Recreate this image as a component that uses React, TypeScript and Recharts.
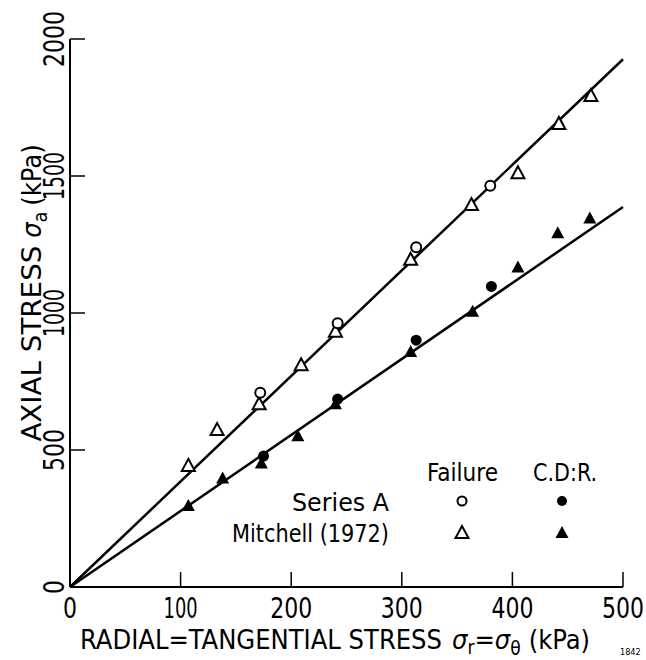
import { Scatter, ScatterChart, XAxis, YAxis } from 'recharts'

const FONT = "'DejaVu Sans Condensed', 'DejaVu Sans', sans-serif"

const xTicks = [0, 100, 200, 300, 400, 500]
const yTicks = [0, 500, 1000, 1500, 2000]

// failure points
const failureSeriesA = [
  { x: 172, y: 709 },
  { x: 242, y: 963 },
  { x: 313, y: 1240 },
  { x: 380, y: 1464 },
]
const failureMitchell = [
  { x: 107, y: 442 },
  { x: 133, y: 573 },
  { x: 171, y: 667 },
  { x: 209, y: 809 },
  { x: 240, y: 932 },
  { x: 308, y: 1194 },
  { x: 363, y: 1394 },
  { x: 405, y: 1510 },
  { x: 442, y: 1690 },
  { x: 471, y: 1792 },
]
// constant deformation ratio points
const cdrSeriesA = [
  { x: 175, y: 478 },
  { x: 242, y: 686 },
  { x: 313, y: 901 },
  { x: 381, y: 1097 },
]
const cdrMitchell = [
  { x: 107, y: 296 },
  { x: 138, y: 396 },
  { x: 173, y: 451 },
  { x: 206, y: 550 },
  { x: 240, y: 667 },
  { x: 308, y: 858 },
  { x: 364, y: 1005 },
  { x: 405, y: 1166 },
  { x: 441, y: 1291 },
  { x: 470, y: 1345 },
]
const failureLine = [{ x: 0, y: 0 }, { x: 500, y: 1926 }]
const cdrLine = [{ x: 0, y: 0 }, { x: 500, y: 1387 }]

const openCircle = (p: any) => <circle cx={p.cx} cy={p.cy} r={5} fill="#fff" stroke="#000" strokeWidth={2} />
const filledCircle = (p: any) => <circle cx={p.cx} cy={p.cy} r={5.5} fill="#000" />
const tri = (cx: number, cy: number) => `${cx},${cy - 7} ${cx - 6.5},${cy + 5} ${cx + 6.5},${cy + 5}`
const openTriangle = (p: any) => <polygon points={tri(p.cx, p.cy)} fill="#fff" stroke="#000" strokeWidth={2} />
const filledTriangle = (p: any) => <polygon points={tri(p.cx, p.cy)} fill="#000" />
const noShape = () => <g />

// the original lettering is tall and narrow, squeeze digits to its widths
const numWidth = (s: string) => s.split('').reduce((w, c) => w + (c === '1' ? 6 : 14), 0)

function XTick({ x, y, payload }: any) {
  const s = String(payload.value)
  return (
    <text x={x} y={y + 21} textAnchor="middle" fontSize={29} fontFamily={FONT} fill="#000"
      textLength={numWidth(s)} lengthAdjust="spacingAndGlyphs">
      {s}
    </text>
  )
}

function YTick({ x, y, payload }: any) {
  const s = String(payload.value)
  return (
    <text x={x} y={y} transform={`rotate(-90 ${x} ${y})`} textAnchor="middle" dominantBaseline="central"
      fontSize={29} fontFamily={FONT} fill="#000" textLength={numWidth(s)} lengthAdjust="spacingAndGlyphs">
      {s}
    </text>
  )
}

function XLabel({ viewBox }: any) {
  const left = viewBox.x + 10
  return (
    <text x={left} y={viewBox.y + 62} fontSize={27} fontFamily={FONT} fill="#000">
      <tspan textLength={362} lengthAdjust="spacingAndGlyphs">RADIAL=TANGENTIAL STRESS</tspan>
      <tspan dx={10} fontStyle="italic">σ</tspan><tspan dy={5} fontSize={19}>r</tspan>
      <tspan dy={-5}>=</tspan><tspan fontStyle="italic">σ</tspan><tspan dy={6} fontSize={19}>θ</tspan>
      <tspan dy={-6} dx={8}>(kPa)</tspan>
    </text>
  )
}

function YLabel({ viewBox }: any) {
  const x = 41
  const y = viewBox.y + viewBox.height / 2 - 20
  return (
    <text x={x} y={y} transform={`rotate(-90 ${x} ${y})`} textAnchor="middle" fontSize={27} fontFamily={FONT} fill="#000">
      <tspan textLength={196} lengthAdjust="spacingAndGlyphs">AXIAL STRESS</tspan>
      <tspan dx={8} fontStyle="italic">σ</tspan><tspan dy={6} fontSize={19}>a</tspan>
      <tspan dy={-6} dx={6}>(kPa)</tspan>
    </text>
  )
}

function LegendBlock() {
  const t = { fontFamily: FONT, fontSize: 25, fill: '#000', lengthAdjust: 'spacingAndGlyphs' as const }
  return (
    <svg width={646} height={660} style={{ position: 'absolute', left: 0, top: 0, pointerEvents: 'none' }}>
      <text {...t} x={427} y={481} textLength={71}>Failure</text>
      <text {...t} x={533} y={481} textLength={64}>C.D:R.</text>
      <text {...t} x={292} y={511} textLength={97}>Series A</text>
      <text {...t} x={232} y={542} textLength={157}>Mitchell (1972)</text>
      <circle cx={462} cy={501} r={4.5} fill="#fff" stroke="#000" strokeWidth={2} />
      <circle cx={562} cy={501} r={5} fill="#000" />
      <polygon points={tri(462, 533)} fill="#fff" stroke="#000" strokeWidth={2} />
      <polygon points={tri(562, 533)} fill="#000" />
      <text x={620} y={655} fontFamily={FONT} fontSize={9} fill="#000">1842</text>
    </svg>
  )
}

export default function App() {
  return (
    <div style={{ position: 'absolute', left: 0, top: 0, width: 646, height: 660, background: '#fff' }}>
      <ScatterChart width={646} height={660} margin={{ top: 39, right: 23, left: 0, bottom: 0 }}>
        <XAxis type="number" dataKey="x" domain={[0, 500]} ticks={xTicks} interval={0} height={73}
          tickSize={-15} tickMargin={25} axisLine={{ stroke: '#000', strokeWidth: 2 }}
          tickLine={{ stroke: '#000', strokeWidth: 1.5 }} tick={<XTick />} label={<XLabel />} />
        <XAxis xAxisId="top" orientation="top" type="number" domain={[0, 500]} height={0}
          tick={false} tickLine={false} axisLine={{ stroke: '#000', strokeWidth: 2 }} />
        <YAxis type="number" dataKey="y" domain={[0, 2000]} ticks={yTicks} interval={0} width={70}
          tickSize={-15} tickMargin={31} axisLine={{ stroke: '#000', strokeWidth: 2 }}
          tickLine={{ stroke: '#000', strokeWidth: 1.5 }} tick={<YTick />} label={<YLabel />} />
        <YAxis yAxisId="right" orientation="right" type="number" domain={[0, 2000]} width={0}
          tick={false} tickLine={false} axisLine={{ stroke: '#000', strokeWidth: 2 }} />
        <Scatter data={failureLine} line={{ stroke: '#000', strokeWidth: 2.5 }} shape={noShape} isAnimationActive={false} />
        <Scatter data={cdrLine} line={{ stroke: '#000', strokeWidth: 2.5 }} shape={noShape} isAnimationActive={false} />
        <Scatter data={failureMitchell} shape={openTriangle} isAnimationActive={false} />
        <Scatter data={cdrMitchell} shape={filledTriangle} isAnimationActive={false} />
        <Scatter data={failureSeriesA} shape={openCircle} isAnimationActive={false} />
        <Scatter data={cdrSeriesA} shape={filledCircle} isAnimationActive={false} />
      </ScatterChart>
      <LegendBlock />
    </div>
  )
}
